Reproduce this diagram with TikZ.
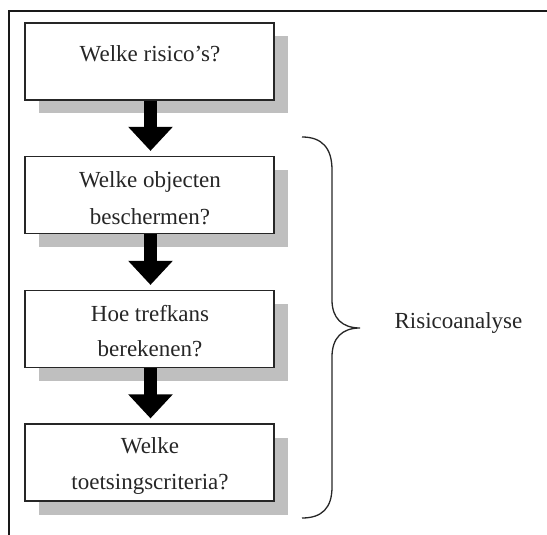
\documentclass[tikz,border=0pt]{standalone}
\usepackage{fontspec}
\setmainfont{Liberation Serif}
\usetikzlibrary{arrows.meta,shadows,calc}
\begin{document}
\begin{tikzpicture}[x=1pt,y=-1pt,
  stepbox/.style={draw=black!85, line width=1.2pt, fill=white, rectangle, inner sep=0pt,
    minimum width=249pt, minimum height=77pt,
    drop shadow={opacity=1, fill=black!25, shadow xshift=13.5pt, shadow yshift=-13.5pt}},
  lbl/.style={font=\fontsize{23}{28}\selectfont, text=black!85, inner sep=0pt, anchor=base},
  blockarrow/.style={draw=black, line width=13pt, shorten >=5pt,
    -{Triangle[length=24pt, width=43pt]}},
  brace/.style={draw=black!85, line width=1.3pt},
  frameline/.style={draw=black!90, line width=1.5pt}]
\useasboundingbox (0,0) rectangle (547,535);
\draw[frameline] (547,11) -- (9,11) -- (9,535);
% boxes
\node[stepbox] (b1) at (149.5,61.5) {};
\node[stepbox] (b2) at (149.5,195) {};
\node[stepbox] (b3) at (149.5,329) {};
\node[stepbox] (b4) at (149.5,462.5) {};
% texts
\node[lbl] (t1) at (150,62) {Welke risico's?};
\node[lbl] (t2a) at (150,187) {Welke objecten};
\node[lbl] (t2b) at (150,224) {beschermen?};
\node[lbl] (t3a) at (150,321) {Hoe trefkans};
\node[lbl] (t3b) at (150,356) {berekenen?};
\node[lbl] (t4a) at (150,453) {Welke};
\node[lbl] (t4b) at (150,489) {toetsingscriteria?};
% arrows
\draw[blockarrow] ([xshift=1pt]b1.south) -- ([xshift=1pt]b2.north);
\draw[blockarrow] ([xshift=1pt]b2.south) -- ([xshift=1pt]b3.north);
\draw[blockarrow] ([xshift=1pt]b3.south) -- ([xshift=1pt]b4.north);
% brace
\coordinate (btop) at (302,137);
\coordinate (btip) at (360,328);
\coordinate (bbot) at (302,518);
\draw[brace] (btop) .. controls (322,137) and (332,148) .. (332,170)
  -- (332,300) .. controls (332,318) and (342,328) .. (btip)
  .. controls (342,328) and (332,338) .. (332,357)
  -- (332,487) .. controls (332,508) and (322,518) .. (bbot);
\node[lbl] (risk) at (458.5,328) {Risicoanalyse};
\end{tikzpicture}
\end{document}
